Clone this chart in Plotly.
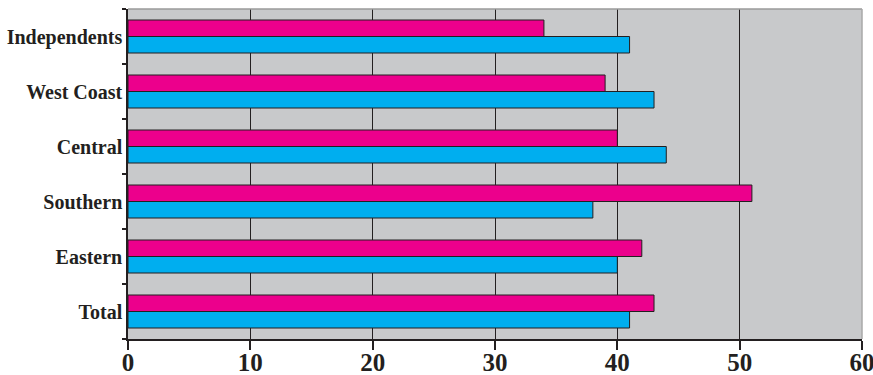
import plotly.graph_objects as go

categories = ["Total", "Eastern", "Southern", "Central", "West Coast", "Independents"]
blue_values = [41, 40, 38, 44, 43, 41]
magenta_values = [43, 42, 51, 40, 39, 34]
x_ticks = [0, 10, 20, 30, 40, 50, 60]

MAGENTA = "#EC008C"
CYAN = "#00AEEF"
OUTLINE = "#231F20"
BG = "#C8C9CB"
FONT = "Liberation Serif"

fig = go.Figure()
fig.add_trace(go.Bar(
    y=categories, x=blue_values, orientation="h", name="blue",
    marker=dict(color=CYAN, line=dict(color=OUTLINE, width=1)),
))
fig.add_trace(go.Bar(
    y=categories, x=magenta_values, orientation="h", name="magenta",
    marker=dict(color=MAGENTA, line=dict(color=OUTLINE, width=1)),
))

fig.update_layout(
    width=873, height=375,
    margin=dict(l=128, r=11, t=9, b=36, pad=0),
    paper_bgcolor="white",
    plot_bgcolor=BG,
    barmode="group",
    bargap=0.4,
    bargroupgap=0,
    showlegend=False,
    xaxis=dict(
        range=[0, 60], tickvals=x_ticks, ticktext=[str(v) for v in x_ticks],
        showgrid=True, gridcolor=OUTLINE, gridwidth=1,
        showline=True, linecolor=OUTLINE, linewidth=1.5,
        ticks="outside", ticklen=9, tickcolor=OUTLINE, tickwidth=1.5,
        tickfont=dict(family=FONT, size=25, color=OUTLINE, weight="bold"),
        zeroline=False, fixedrange=True, automargin=False,
        ticklabeloverflow="allow", ticklabelstandoff=-9,
    ),
    yaxis=dict(
        categoryorder="array", categoryarray=categories,
        showgrid=False, zeroline=False,
        showline=True, linecolor=OUTLINE, linewidth=1.5,
        ticks="outside", ticklen=4, tickcolor=OUTLINE, tickwidth=1.5,
        tickson="boundaries", automargin=False,
        tickfont=dict(family=FONT, size=20, color=OUTLINE, weight="bold"),
        ticklabelstandoff=0,
    ),
    shapes=[
        dict(type="line", xref="paper", yref="paper", x0=0, x1=1, y0=1, y1=1,
             line=dict(color="#9A9A9A", width=1.5), layer="above"),
        dict(type="line", xref="paper", yref="paper", x0=1, x1=1, y0=0, y1=1,
             line=dict(color="#A8A8A8", width=1.5), layer="above"),
    ],
)

fig.write_html("out.html")
